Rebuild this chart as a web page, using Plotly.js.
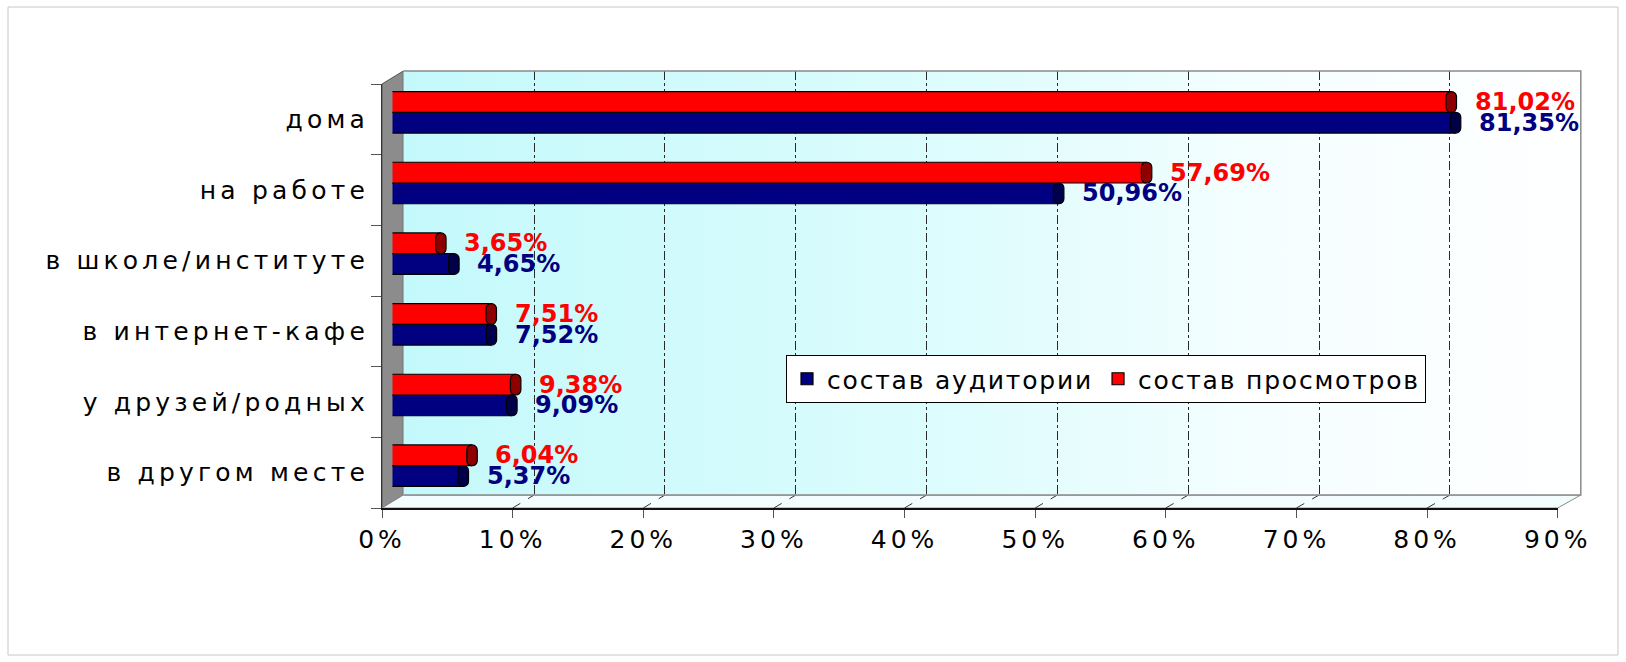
<!DOCTYPE html>
<html><head><meta charset="utf-8">
<script src="https://cdn.plot.ly/plotly-3.0.1.min.js"></script>
<style>
html,body{margin:0;padding:0;background:#fff;}
#chart{width:1626px;height:662px;}
.y4tick text{letter-spacing:4.2px;}
.x4tick text{letter-spacing:4px;}
.legendtext{letter-spacing:1.8px;}
</style></head><body><div id="chart"></div>
<script>
// ---- data ----
const categories = ['дома', 'на работе', 'в школе/институте', 'в интернет-кафе', 'у друзей/родных', 'в другом месте'];
const audience = [81.35, 50.96, 4.65, 7.52, 9.09, 5.37];   // состав аудитории
const views = [81.02, 57.69, 3.65, 7.51, 9.38, 6.04];      // состав просмотров
const seriesNames = ['состав аудитории', 'состав просмотров'];
const xTicks = [0, 10, 20, 30, 40, 50, 60, 70, 80, 90];
const xTickLabels = xTicks.map(v => v + '%');
const fmt = v => v.toFixed(2).replace('.', ',') + '%';

// ---- geometry (pixels) ----
const W = 1626, H = 662;
const px = x => x / W, py = y => 1 - y / H;
const front = {x0: 382, x1: 1557.7, y0: 84, y1: 508};
const back = {x0: 403.3, x1: 1580.8, y0: 71, y1: 495};
const bars = {x0: 392.5, x1: 392.5 + 1175.4, y0: 77, y1: 501};
const xMax = 90;
const capIn = 0.35, capOut = 0.45, leftExt = 0.35;
const catOrder = categories.slice().reverse();

const FONT = 'DejaVu Sans';
const RED = '#ff0000', NAVY = '#000080';

const traces = [
  // back wall with gradient
  {type: 'scatter', xaxis: 'x', yaxis: 'y', x: [0, xMax, xMax, 0, 0], y: [0, 0, 1, 1, 0],
   mode: 'lines', line: {width: 0}, fill: 'toself',
   fillgradient: {type: 'horizontal', colorscale: [[0, '#c4f9fb'], [0.45, '#dcfcfd'], [0.75, '#f6feff'], [1, '#ffffff']]},
   hoverinfo: 'skip', showlegend: false},
  // grid subplot placeholder
  {type: 'scatter', xaxis: 'x2', yaxis: 'y2', x: [], y: [], showlegend: false, hoverinfo: 'skip'},
  // bar bodies
  {type: 'bar', orientation: 'h', xaxis: 'x3', yaxis: 'y3', name: seriesNames[0], offsetgroup: 'a',
   y: categories, base: audience.map(() => -leftExt), x: audience.map(v => v + leftExt),
   marker: {color: NAVY, line: {color: '#000', width: 1.2}}, showlegend: true},
  {type: 'bar', orientation: 'h', xaxis: 'x3', yaxis: 'y3', name: seriesNames[1], offsetgroup: 'b',
   y: categories, base: views.map(() => -leftExt), x: views.map(v => v + leftExt),
   marker: {color: RED, line: {color: '#000', width: 1.2}}, showlegend: true},
  // end caps
  {type: 'bar', orientation: 'h', xaxis: 'x3', yaxis: 'y3', offsetgroup: 'a',
   y: categories, base: audience.map(v => v - capIn), x: audience.map(() => capIn + capOut),
   marker: {color: '#00004a', line: {color: '#000', width: 1.2}, cornerradius: 5}, showlegend: false},
  {type: 'bar', orientation: 'h', xaxis: 'x3', yaxis: 'y3', offsetgroup: 'b',
   y: categories, base: views.map(v => v - capIn), x: views.map(() => capIn + capOut),
   marker: {color: '#8e0000', line: {color: '#000', width: 1.2}, cornerradius: 5}, showlegend: false},
  // front axes placeholder
  {type: 'scatter', xaxis: 'x4', yaxis: 'y4', x: [], y: [], showlegend: false, hoverinfo: 'skip'}
];

const annotations = [];
categories.forEach((c, i) => {
  annotations.push({xref: 'x3', yref: 'y3', x: views[i], y: c, text: fmt(views[i]), showarrow: false,
    xanchor: 'left', yanchor: 'middle', xshift: 22, yshift: 10.35,
    font: {family: FONT, size: 24, weight: 'bold', color: RED}});
  annotations.push({xref: 'x3', yref: 'y3', x: audience[i], y: c, text: fmt(audience[i]), showarrow: false,
    xanchor: 'left', yanchor: 'middle', xshift: 22, yshift: -10.35,
    font: {family: FONT, size: 24, weight: 'bold', color: NAVY}});
});

const shapes = [
  // outer border
  {type: 'rect', xref: 'paper', yref: 'paper', x0: px(8), x1: px(1618), y0: py(7), y1: py(655),
   line: {color: '#c8c8c8', width: 1}, layer: 'below'},
  // side wall
  {type: 'path', xref: 'paper', yref: 'paper', layer: 'below',
   path: `M${px(front.x0)},${py(front.y0)} L${px(back.x0)},${py(back.y0)} L${px(back.x0)},${py(back.y1)} L${px(front.x0)},${py(front.y1)} Z`,
   fillcolor: '#8c8c8c', line: {color: '#555', width: 1}},
  // floor
  {type: 'path', xref: 'paper', yref: 'paper', layer: 'below',
   path: `M${px(front.x0)},${py(front.y1)} L${px(back.x0)},${py(back.y1)} L${px(back.x1)},${py(back.y1)} L${px(front.x1)},${py(front.y1)} Z`,
   fillcolor: '#f3fdfe', line: {color: '#8a8a8a', width: 1}},
  // wall top / right / bottom edges
  {type: 'path', xref: 'paper', yref: 'paper', layer: 'above',
   path: `M${px(back.x0)},${py(back.y1)} L${px(back.x1)},${py(back.y1)} L${px(back.x1)},${py(back.y0)} L${px(back.x0)},${py(back.y0)}`,
   line: {color: '#8a8a8a', width: 1.5}}
];
// floor grid diagonals
xTicks.slice(1, -1).forEach(v => {
  const fx = front.x0 + (front.x1 - front.x0) * v / xMax;
  const bx = back.x0 + (back.x1 - back.x0) * v / xMax;
  shapes.push({type: 'line', xref: 'paper', yref: 'paper', layer: 'below',
    x0: px(fx), y0: py(front.y1), x1: px(bx), y1: py(back.y1),
    line: {color: '#333', width: 1, dash: 'dash'}});
});

const hidden = {visible: false, showgrid: false, zeroline: false, fixedrange: true};

const layout = {
  width: W, height: H, autosize: false,
  margin: {l: 0, r: 0, t: 0, b: 0, pad: 0},
  paper_bgcolor: '#fff', plot_bgcolor: 'rgba(0,0,0,0)',
  barmode: 'group', bargap: 0.413, bargroupgap: 0,
  showlegend: true,
  legend: {x: px(786), y: py(355), xanchor: 'left', yanchor: 'top', orientation: 'h',
    bgcolor: '#fff', bordercolor: '#000', borderwidth: 1, itemwidth: 30,
    font: {family: FONT, size: 25, color: '#000'}},
  xaxis: Object.assign({}, hidden, {domain: [px(back.x0), px(back.x1)], range: [0, xMax], anchor: 'y'}),
  yaxis: Object.assign({}, hidden, {domain: [py(back.y1), py(back.y0)], range: [0, 1], anchor: 'x'}),
  xaxis2: {domain: [px(back.x0), px(back.x1)], range: [0, xMax], anchor: 'y2',
    tickmode: 'array', tickvals: xTicks.slice(1, -1), showticklabels: false, ticks: '',
    showgrid: true, griddash: 'dashdot', gridcolor: '#2a2a2a', gridwidth: 1,
    zeroline: false, showline: false, fixedrange: true},
  yaxis2: {domain: [py(back.y1), py(back.y0)], range: [0, 1], anchor: 'x2',
    showgrid: false, zeroline: false, showticklabels: false, ticks: '', showline: false, fixedrange: true},
  xaxis3: Object.assign({}, hidden, {domain: [px(bars.x0), px(bars.x1)], range: [0, xMax], anchor: 'y3'}),
  yaxis3: Object.assign({}, hidden, {domain: [py(bars.y1), py(bars.y0)], type: 'category',
    categoryorder: 'array', categoryarray: catOrder, range: [-0.5, categories.length - 0.5], anchor: 'x3'}),
  xaxis4: {domain: [px(front.x0), px(front.x1)], range: [0, xMax], anchor: 'y4',
    tickmode: 'array', tickvals: xTicks, ticktext: xTickLabels,
    ticks: 'outside', ticklen: 8, tickcolor: '#555', tickwidth: 1, ticklabelstandoff: 0,
    showline: true, linecolor: '#111', linewidth: 1.5, showgrid: false, zeroline: false,
    tickfont: {family: FONT, size: 25, color: '#000'}, fixedrange: true},
  yaxis4: {domain: [py(front.y1), py(front.y0)], type: 'category', anchor: 'x4',
    categoryorder: 'array', categoryarray: catOrder, range: [-0.5, categories.length - 0.5],
    tickson: 'boundaries', ticks: 'outside', ticklen: 10, tickcolor: '#555', tickwidth: 1, ticklabelstandoff: 7,
    showline: true, linecolor: '#333', linewidth: 1, showgrid: false, zeroline: false,
    tickfont: {family: FONT, size: 25, color: '#000'}, fixedrange: true},
  annotations: annotations,
  shapes: shapes,
  hovermode: false
};

Plotly.newPlot('chart', traces, layout, {staticPlot: true, displayModeBar: false});
</script></body></html>
